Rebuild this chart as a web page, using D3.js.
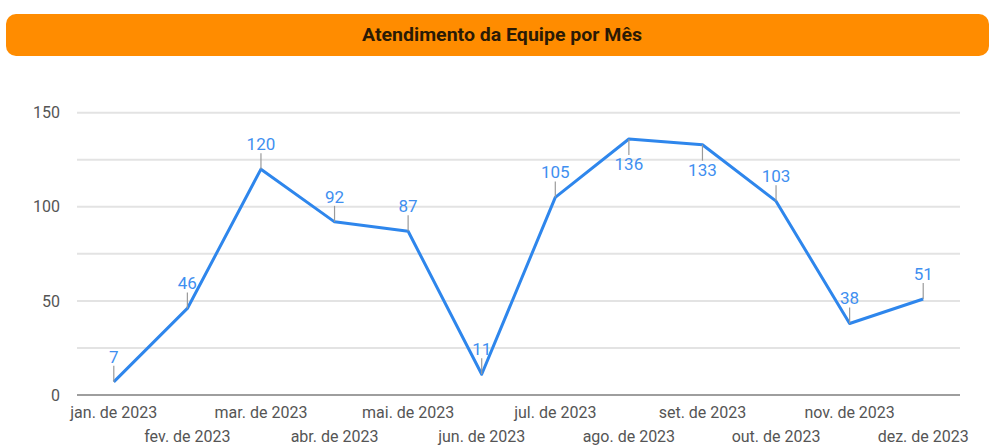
<!DOCTYPE html>
<html><head><meta charset="utf-8">
<script src="https://cdn.jsdelivr.net/npm/d3@7"></script>
<style>body{margin:0;background:#fff;}svg{display:block;font-family:Roboto,sans-serif;}</style>
</head><body>
<svg id="c" width="991" height="445"></svg>
<script>
const title = "Atendimento da Equipe por Mês";
const months = ["jan. de 2023","fev. de 2023","mar. de 2023","abr. de 2023","mai. de 2023","jun. de 2023","jul. de 2023","ago. de 2023","set. de 2023","out. de 2023","nov. de 2023","dez. de 2023"];
const values = [7,46,120,92,87,11,105,136,133,103,38,51];
const gridTicks = [0,25,50,75,100,125,150];
const labelTicks = [0,50,100,150];
const labelBelow = [false,false,false,false,false,false,false,true,true,false,false,false];

const svg = d3.select("#c");
// title bar
svg.append("rect").attr("x",6).attr("y",14).attr("width",983).attr("height",42).attr("rx",10).attr("fill","#ff8c00");
svg.append("text").attr("x",502).attr("y",34).attr("text-anchor","middle").attr("dominant-baseline","central")
  .attr("font-size",18).attr("font-weight",700).attr("fill","#2a1a05")
  .attr("textLength",280).attr("lengthAdjust","spacingAndGlyphs").text(title);

const L=77,R=960,T=112.7,B=395;
const x = d3.scaleBand().domain(months).range([L,R]);
const y = d3.scaleLinear().domain([0,150]).range([B,T]);
const cx = d => x(d)+x.bandwidth()/2;

const g = svg.append("g");
g.selectAll("line.grid").data(gridTicks.filter(t=>t>0)).join("line")
  .attr("x1",L).attr("x2",R).attr("y1",d=>y(d)).attr("y2",d=>y(d))
  .attr("stroke","#e3e3e3").attr("stroke-width",2);
g.append("line").attr("x1",L).attr("x2",R).attr("y1",y(0)).attr("y2",y(0)).attr("stroke","#9e9e9e").attr("stroke-width",2);

// y axis
const ya = svg.append("g").attr("transform",`translate(${L-17},0)`)
  .call(d3.axisLeft(y).tickValues(labelTicks).tickSize(0).tickPadding(0).tickFormat(d3.format("d")));
ya.select(".domain").remove();
ya.selectAll("text").attr("font-size",16).attr("fill","#555").attr("font-family","Roboto,sans-serif");

// x axis
const xa = svg.append("g").attr("transform",`translate(0,${B})`)
  .call(d3.axisBottom(x).tickSize(0).tickPadding(0));
xa.select(".domain").remove();
xa.selectAll("text").attr("font-size",16).attr("fill","#555").attr("font-family","Roboto,sans-serif")
  .attr("dy",(d,i)=> i%2===0 ? "0.9em" : "2.35em").attr("y",9);

// line
const line = d3.line().x((d,i)=>cx(months[i])).y(d=>y(d));
svg.append("path").datum(values).attr("d",line).attr("fill","none").attr("stroke","#2e86ec").attr("stroke-width",3).attr("stroke-linejoin","round");

// leaders and labels
const lab = svg.append("g");
values.forEach((v,i)=>{
  const px = cx(months[i]), py = y(v), below = labelBelow[i];
  const y2 = below ? py+16 : py-16;
  lab.append("line").attr("x1",px).attr("x2",px).attr("y1",py).attr("y2",y2).attr("stroke","#9a9a9a").attr("stroke-width",1.2);
  lab.append("text").attr("x",px).attr("y", below ? y2+15 : y2-3).attr("text-anchor","middle")
    .attr("font-size",17).attr("fill","#3f8ff0").text(v);
});
</script>
</body></html>
